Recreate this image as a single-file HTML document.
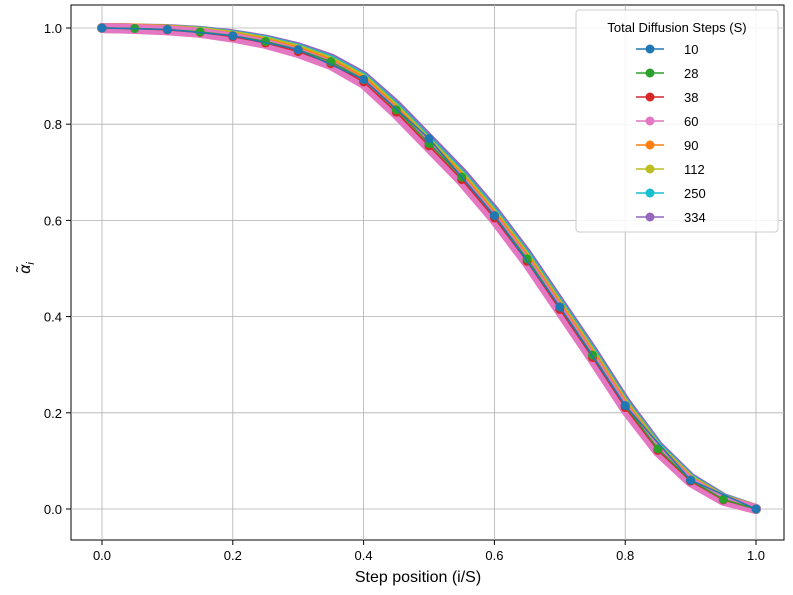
<!DOCTYPE html>
<html><head><meta charset="utf-8"><style>
body{margin:0;background:#fff;}
svg{font-family:"Liberation Sans","DejaVu Sans",sans-serif;}
</style></head><body>
<svg id="chart" width="793" height="590">
<rect x="71" y="5" width="713" height="535" fill="#fff" stroke="#000" stroke-width="1"/>
<g id="grid"></g><g id="series"></g><g id="ticks"></g>
<text x="418" y="582" text-anchor="middle" font-size="16">Step position (i/S)</text>
<text transform="translate(30,268) rotate(-90)" text-anchor="middle" font-size="16" font-style="italic">α̃<tspan font-size="11" dy="4">i</tspan></text>
<g id="legend"></g>
</svg>
<script>
const seriesNames=["10","28","38","60","90","112","250","334"];
const colors=["#1f77b4","#2ca02c","#d62728","#e377c2","#ff7f0e","#bcbd22","#17becf","#9467bd"];
const xTicks=[0,0.2,0.4,0.6,0.8,1.0];
const yTicks=[0,0.2,0.4,0.6,0.8,1.0];
const s10=[1,.997,.984,.955,.893,.77,.61,.42,.215,.06,0];
const s28=[1,.999,.997,.992,.984,.972,.955,.93,.893,.83,.76,.69,.61,.52,.42,.32,.215,.125,.06,.02,0];
const s38=[1,.999,.996,.991,.982,.969,.951,.926,.888,.825,.755,.685,.605,.515,.415,.315,.211,.122,.058,.019,0];
const s60=[1,.998,.995,.990,.980,.967,.948,.923,.884,.821,.751,.681,.601,.511,.411,.311,.207,.119,.056,.017,0];
const s90=[1,.999,.996,.990,.981,.969,.951,.926,.888,.825,.755,.685,.605,.515,.415,.315,.21,.121,.057,.018,0];
const s112=[1,.999,.997,.992,.984,.972,.955,.93,.893,.83,.76,.69,.61,.52,.42,.32,.215,.125,.06,.02,0];
const s250=[1,.999,.997,.993,.985,.974,.957,.933,.896,.834,.764,.694,.614,.524,.424,.324,.218,.128,.062,.021,0];
const s334=[1,.999,.998,.994,.987,.976,.960,.937,.900,.840,.770,.700,.620,.530,.430,.330,.224,.132,.065,.023,0];
const allSeries=[s10,s28,s38,s60,s90,s112,s250,s334];
const NS="http://www.w3.org/2000/svg";
const X=v=>102+v*654, Y=v=>509-v*481;
function mk(t,a,p){const e=document.createElementNS(NS,t);for(const k in a)e.setAttribute(k,a[k]);p.appendChild(e);return e;}
const grid=document.getElementById('grid'),ticks=document.getElementById('ticks'),sg=document.getElementById('series'),lg=document.getElementById('legend');
xTicks.forEach(v=>{
 const l=mk('line',{x1:X(v),x2:X(v),y1:5,y2:540,stroke:'#b0b0b0','stroke-width':0.8},grid);
 
 
 mk('line',{x1:X(v),x2:X(v),y1:540,y2:545,stroke:'#000'},ticks);
 const t=mk('text',{x:X(v),y:560,'text-anchor':'middle','font-size':13},ticks);t.textContent=v.toFixed(1);
 
 
});
yTicks.forEach(v=>{
 const l=mk('line',{x1:71,x2:784,y1:Y(v),y2:Y(v),stroke:'#b0b0b0','stroke-width':0.8},grid);
 
 
 mk('line',{x1:66,x2:71,y1:Y(v),y2:Y(v),stroke:'#000'},ticks);
 const t=mk('text',{x:62,y:Y(v)+5,'text-anchor':'end','font-size':13},ticks);t.textContent=v.toFixed(1);
 
 
});
const order=[7,6,5,4,3,2,1,0];
order.forEach(k=>{
 const arr=allSeries[k];
 const g=mk('g',{},sg);
 
 
 const n=arr.length-1;
 const pts=arr.map((v,i)=>X(i/n)+','+Y(v)).join(' ');
 const S=+seriesNames[k];
 mk('polyline',{points:pts,fill:'none',stroke:colors[k],'stroke-width':S>=60?10:1.5,'stroke-linejoin':'round','stroke-linecap':'round'},g);
 if(S<60){arr.forEach((v,i)=>{
  const c=mk('circle',{cx:X(i/n),cy:Y(v),r:4.5,fill:colors[k]},g);
  
  
 });}
});
const box=mk('rect',{x:576,y:10,width:202,height:222,fill:'#fff','fill-opacity':0.85,stroke:'#ccc',rx:3},lg);


const tt=mk('text',{x:677,y:32,'text-anchor':'middle','font-size':13},lg);tt.textContent='Total Diffusion Steps (S)';


seriesNames.forEach((nm,k)=>{
 const y=49+k*24;
 const g=mk('g',{},lg);
 
 
 mk('line',{x1:636,x2:664,y1:y,y2:y,stroke:colors[k],'stroke-width':1.5},g);
 mk('circle',{cx:650,cy:y,r:4.5,fill:colors[k]},g);
 const t=mk('text',{x:684,y:y+5,'font-size':13},g);t.textContent=nm;
});
</script>
</body></html>
